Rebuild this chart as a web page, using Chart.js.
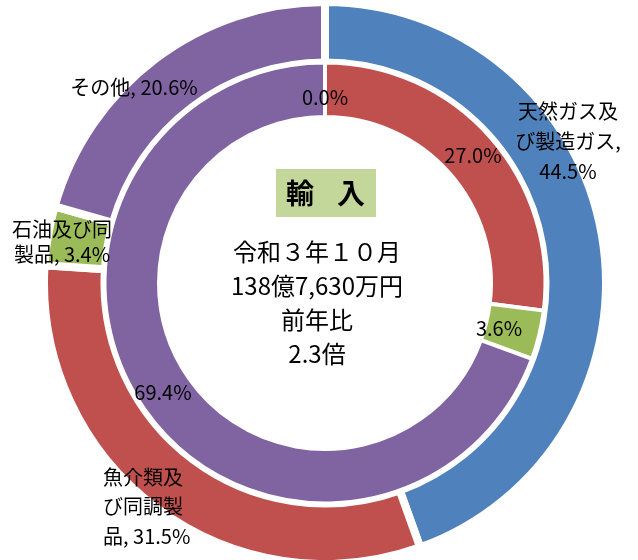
<!DOCTYPE html>
<html lang="ja">
<head>
<meta charset="UTF-8">
<title>輸入 令和３年１０月</title>
<script src="https://cdn.jsdelivr.net/npm/chart.js@4.4.0/dist/chart.umd.min.js"></script>
<style>
  body { margin: 0; background: #fff; }
  canvas { display: block; }
</style>
</head>
<body>
<canvas id="myChart" width="638" height="560"></canvas>
<script>
// data (shares in %)
var categories = ['天然ガス及び製造ガス', '魚介類及び同調製品', '石油及び同製品', 'その他'];
var shareThisYear = [44.5, 31.5, 3.4, 20.6];   // outer ring
var shareLastYear = [0.0, 27.0, 3.6, 69.4];    // inner ring
var colors = ['#4F81BD', '#C0504D', '#9BBB59', '#8064A2'];
var centerLines = ['令和３年１０月', '138億7,630万円', '前年比', '2.3倍'];

// where Excel put the labels (text centres) and where it broke the lines
var outerLabelLayout = [
    {x: 568, y: 111, breaks: [5, 11], lh: 30, align: 'center'},
    {x: 103, y: 477, breaks: [4, 8], lh: 29.5, align: 'left'},
    {x: 62, y: 229, breaks: [5], lh: 25, align: 'center'},
    {x: 134, y: 87, breaks: [], lh: 0, align: 'center'}
];
var innerLabelLayout = [
    {x: 325, y: 97}, {x: 473, y: 155}, {x: 499, y: 328}, {x: 163, y: 392}
];

var labelFont = '20px "Noto Sans CJK JP", "Noto Sans", sans-serif';

function splitLines(str, breaks) {
    var out = [];
    var last = 0;
    breaks.forEach(function (b) {
        out.push(str.slice(last, b).trim());
        last = b;
    });
    out.push(str.slice(last).trim());
    return out;
}

var labelPlugin = {
    id: 'labels',
    afterDatasetsDraw: function (chart) {
        var ctx = chart.ctx;
        var arc0 = chart.getDatasetMeta(0).data[0];
        var cx = arc0.x, cy = arc0.y;
        ctx.save();
        ctx.fillStyle = '#000';
        ctx.textBaseline = 'middle';
        ctx.font = labelFont;

        // outer ring labels
        categories.forEach(function (name, i) {
            var L = outerLabelLayout[i];
            var txt = name + ', ' + shareThisYear[i].toFixed(1) + '%';
            var lines = splitLines(txt, L.breaks);
            ctx.textAlign = L.align;
            lines.forEach(function (ln, k) {
                ctx.fillText(ln, L.x, L.y + k * L.lh);
            });
        });

        // inner ring labels
        ctx.textAlign = 'center';
        shareLastYear.forEach(function (v, i) {
            var L = innerLabelLayout[i];
            ctx.fillText(v.toFixed(1) + '%', L.x, L.y);
        });

        // centre box
        ctx.fillStyle = '#C4D79B';
        ctx.fillRect(cx - 49, cy - 114, 100, 48);
        ctx.fillStyle = '#000';
        ctx.font = 'bold 28px "Noto Sans CJK JP", sans-serif';
        ctx.fillText('輸', cx - 25, cy - 90);
        ctx.fillText('入', cx + 26, cy - 90);

        ctx.font = '24px "Noto Sans CJK JP", sans-serif';
        centerLines.forEach(function (ln, k) {
            ctx.fillText(ln, cx - 8, cy - 31 + k * 34);
        });
        ctx.restore();
    }
};

var ctx = document.getElementById('myChart').getContext('2d');
var chart = new Chart(ctx, {
    type: 'doughnut',
    data: {
        labels: categories,
        datasets: [{
            label: '令和３年１０月',
            data: shareThisYear,
            backgroundColor: colors,
            borderColor: '#fff',
            borderWidth: 8,
            weight: 60.5,
            order: 1
        }, {
            label: '令和２年１０月',
            data: shareLastYear,
            backgroundColor: colors,
            borderColor: '#fff',
            borderWidth: 4,
            weight: 54.5,
            order: 0
        }]
    },
    options: {
        responsive: false,
        animation: false,
        events: [],
        radius: 281,
        cutout: '59.07%',
        layout: {padding: {left: 12, right: 0, top: 6, bottom: 0}},
        plugins: {
            legend: {display: false},
            tooltip: {enabled: false}
        }
    },
    plugins: [labelPlugin]
});
</script>
</body>
</html>
